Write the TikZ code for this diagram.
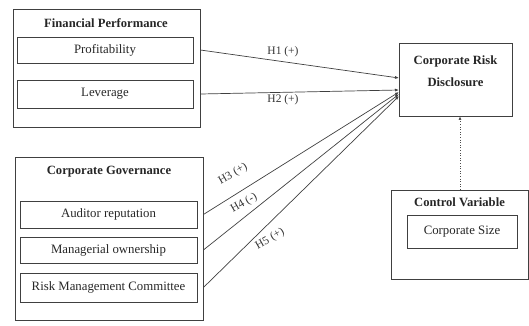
\documentclass[tikz,border=0pt]{standalone}
\usepackage{fontspec}
\setmainfont{Liberation Serif}
\usetikzlibrary{arrows.meta,calc}
\begin{document}
\begin{tikzpicture}[x=1pt,y=-1pt,
  box/.style={draw=black!75,line width=0.8pt,inner sep=0pt,anchor=center},
  lbl/.style={font=\fontsize{12.8}{14}\selectfont,text=black!85,inner sep=0pt},
  ttl/.style={font=\bfseries\fontsize{12.6}{14}\selectfont,text=black!85,inner sep=0pt},
  hyp/.style={font=\fontsize{11.5}{12}\selectfont,text=black!80,inner sep=0pt},
  link/.style={draw=black!75,line width=0.7pt,-{Latex[length=4pt,width=3pt]}},
]
\useasboundingbox (0,0) rectangle (529,325);
% Financial performance
\node[box,minimum width=187pt,minimum height=118pt] (fp) at (106.5,68) {};
\node[ttl] (fpt) at (106,23) {Financial Performance};
\node[box,minimum width=176pt,minimum height=26pt,lbl] (prof) at (105,50) {Profitability};
\node[box,minimum width=176pt,minimum height=28pt,lbl] (lev) at (105,94) {Leverage};
% Corporate governance
\node[box,minimum width=188pt,minimum height=163pt] (cg) at (109,238.5) {};
\node[ttl] (cgt) at (109,172) {Corporate Governance};
\node[box,minimum width=177pt,minimum height=27pt,lbl] (aud) at (108.5,214.5) {Auditor reputation};
\node[box,minimum width=177pt,minimum height=26pt,lbl] (man) at (108.5,250) {Managerial ownership};
\node[box,minimum width=177pt,minimum height=29pt,lbl] (rmc) at (108.5,287.5) {Risk Management Committee};
% Corporate risk disclosure
\node[box,minimum width=113pt,minimum height=73pt] (crd) at (455.5,79.5) {};
\node[ttl] (crd1) at (455.5,61) {Corporate Risk};
\node[ttl] (crd2) at (455.5,82) {Disclosure};
% Control variable
\node[box,minimum width=137pt,minimum height=89pt] (cv) at (459.5,234.5) {};
\node[ttl] (cvt) at (459.5,202) {Control Variable};
\node[box,minimum width=110pt,minimum height=33pt,lbl] (cs) at (462,231.5) {Corporate Size};
% end points
\coordinate (e1) at (399,78);
\coordinate (e2) at (399,90);
\coordinate (e3) at (399,92);
\coordinate (e4) at (399,94);
\coordinate (e5) at (399,96);
\draw[link] (fp.east |- prof) -- (e1);
\draw[link] (fp.east |- lev) -- (e2);
\draw[link] (cg.east |- aud) -- (e3);
\draw[link] (cg.east |- man) -- (e4);
\draw[link] (cg.east |- rmc) -- (e5);
\node[hyp] (h1) at (283,52) {H1 (+)};
\node[hyp] (h2) at (283,99.5) {H2 (+)};
\node[hyp,rotate=30] (h3) at (233,174) {H3 (+)};
\node[hyp,rotate=30] (h4) at (244,203) {H4 (-)};
\node[hyp,rotate=30] (h5) at (270,239) {H5 (+)};
\draw[draw=black!70,line width=0.6pt,dotted,-{Latex[length=3.5pt,width=3pt]}] (cv.north -| 460,0) -- (crd.south -| 460,0);
\end{tikzpicture}
\end{document}
